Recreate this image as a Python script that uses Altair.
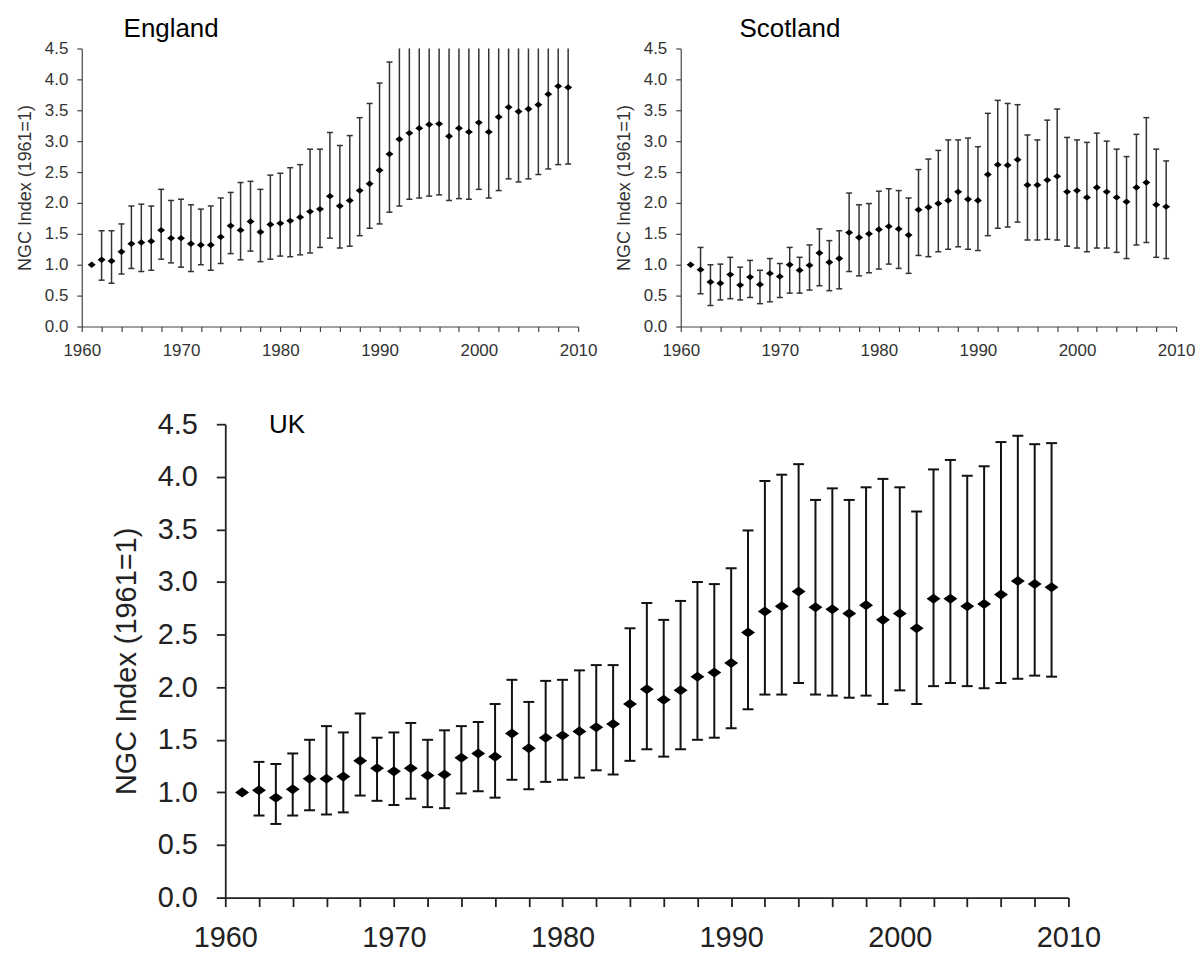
import altair as alt
import pandas as pd

years = list(range(1961, 2010))

england_mean = [1.00, 1.08, 1.06, 1.21, 1.34, 1.36, 1.38, 1.56, 1.43, 1.43,
                1.34, 1.32, 1.32, 1.45, 1.63, 1.56, 1.70, 1.53, 1.65, 1.67,
                1.71, 1.77, 1.86, 1.90, 2.11, 1.95, 2.04, 2.20, 2.31, 2.53,
                2.79, 3.03, 3.13, 3.21, 3.27, 3.28, 3.08, 3.21, 3.15, 3.30,
                3.15, 3.39, 3.55, 3.48, 3.52, 3.59, 3.76, 3.89, 3.87]
england_upper = [None, 1.55, 1.55, 1.66, 1.95, 1.98, 1.95, 2.22, 2.04, 2.06,
                 1.97, 1.90, 1.95, 2.08, 2.17, 2.33, 2.35, 2.22, 2.45, 2.48,
                 2.57, 2.62, 2.87, 2.87, 3.14, 2.93, 3.09, 3.38, 3.61, 3.94,
                 4.28, 4.70, 4.80, 4.90, 5.00, 5.00, 4.70, 5.00, 4.80, 4.90,
                 4.80, 5.20, 5.30, 5.20, 5.20, 5.20, 5.50, 5.80, 5.70]
england_lower = [None, 0.75, 0.70, 0.85, 0.94, 0.89, 0.91, 1.09, 1.03, 0.96,
                 0.89, 1.00, 0.91, 1.02, 1.18, 1.08, 1.22, 1.05, 1.09, 1.14,
                 1.13, 1.16, 1.19, 1.28, 1.43, 1.27, 1.30, 1.47, 1.59, 1.66,
                 1.85, 1.95, 2.06, 2.08, 2.11, 2.13, 2.04, 2.07, 2.06, 2.22,
                 2.08, 2.20, 2.39, 2.34, 2.39, 2.46, 2.55, 2.62, 2.63]

scotland_mean = [1.00, 0.92, 0.72, 0.70, 0.84, 0.67, 0.80, 0.68, 0.86, 0.81,
                 1.00, 0.91, 0.99, 1.19, 1.04, 1.10, 1.52, 1.44, 1.50, 1.57,
                 1.62, 1.58, 1.48, 1.89, 1.93, 1.99, 2.04, 2.18, 2.06, 2.04,
                 2.46, 2.62, 2.61, 2.70, 2.29, 2.29, 2.37, 2.43, 2.18, 2.20,
                 2.09, 2.25, 2.18, 2.09, 2.02, 2.25, 2.33, 1.97, 1.94]
scotland_upper = [None, 1.28, 1.00, 1.01, 1.12, 0.96, 1.07, 0.91, 1.10, 1.02,
                  1.28, 1.12, 1.32, 1.58, 1.39, 1.55, 2.16, 1.97, 1.99, 2.19,
                  2.23, 2.20, 2.08, 2.54, 2.71, 2.85, 3.02, 3.02, 3.05, 2.91,
                  3.45, 3.66, 3.61, 3.59, 3.10, 3.02, 3.34, 3.52, 3.06, 3.02,
                  2.98, 3.13, 3.00, 2.87, 2.75, 3.11, 3.38, 2.87, 2.68]
scotland_lower = [None, 0.53, 0.34, 0.43, 0.45, 0.43, 0.47, 0.37, 0.40, 0.47,
                  0.54, 0.54, 0.59, 0.66, 0.58, 0.61, 0.89, 0.82, 0.87, 0.93,
                  1.01, 0.94, 0.86, 1.15, 1.13, 1.21, 1.25, 1.29, 1.25, 1.23,
                  1.47, 1.59, 1.61, 1.69, 1.40, 1.40, 1.41, 1.40, 1.30, 1.27,
                  1.21, 1.27, 1.27, 1.20, 1.10, 1.32, 1.36, 1.12, 1.10]

uk_mean = [1.00, 1.02, 0.95, 1.03, 1.13, 1.13, 1.15, 1.30, 1.23, 1.20,
           1.23, 1.16, 1.17, 1.33, 1.37, 1.34, 1.56, 1.42, 1.52, 1.54,
           1.58, 1.62, 1.65, 1.84, 1.98, 1.88, 1.97, 2.10, 2.14, 2.23,
           2.52, 2.72, 2.77, 2.91, 2.76, 2.74, 2.70, 2.78, 2.64, 2.70,
           2.56, 2.84, 2.84, 2.77, 2.79, 2.88, 3.01, 2.98, 2.95]
uk_upper = [None, 1.29, 1.27, 1.37, 1.50, 1.63, 1.57, 1.75, 1.52, 1.57,
            1.66, 1.50, 1.59, 1.63, 1.67, 1.84, 2.07, 1.86, 2.06, 2.07,
            2.16, 2.21, 2.21, 2.56, 2.80, 2.64, 2.82, 3.00, 2.98, 3.13,
            3.49, 3.96, 4.02, 4.12, 3.78, 3.89, 3.78, 3.90, 3.98, 3.90,
            3.67, 4.07, 4.16, 4.01, 4.10, 4.33, 4.39, 4.31, 4.32]
uk_lower = [None, 0.78, 0.70, 0.78, 0.83, 0.79, 0.81, 0.97, 0.92, 0.88,
            0.94, 0.86, 0.85, 0.99, 1.01, 0.95, 1.12, 1.03, 1.10, 1.12,
            1.14, 1.21, 1.17, 1.30, 1.41, 1.34, 1.41, 1.50, 1.52, 1.61,
            1.79, 1.93, 1.93, 2.04, 1.93, 1.92, 1.90, 1.92, 1.84, 1.97,
            1.84, 2.01, 2.04, 2.01, 1.99, 2.04, 2.08, 2.11, 2.10]

x_tick_values = list(range(1960, 2011, 2))
y_tick_values = [0.0, 0.5, 1.0, 1.5, 2.0, 2.5, 3.0, 3.5, 4.0, 4.5]
y_title = "NGC Index (1961=1)"
FONT = "Liberation Sans"


def panel(name, mean, lower, upper, w, h, st, name_x, name_y):
    df = pd.DataFrame({"year": years, "mean": mean, "lower": lower, "upper": upper})
    xscale = alt.Scale(domain=[1960, 2010], nice=False, zero=False)
    yscale = alt.Scale(domain=[0, 4.5], nice=False, zero=True, clamp=True)
    xaxis = alt.Axis(values=x_tick_values, format="d",
                     labelExpr="datum.value % 10 == 0 ? datum.label : ''",
                     title=None, grid=False, tickSize=st["tick"], tickWidth=st["axw"],
                     domainWidth=st["axw"], domainColor=st["axc"], tickColor=st["axc"],
                     labelFont=FONT, labelFontSize=st["lfs"], labelColor=st["lc"],
                     labelPadding=st["xlp"], labelOverlap=False, labelFlush=False)
    yaxis = alt.Axis(values=y_tick_values, format=".1f", title=y_title, grid=False,
                     tickSize=st["tick"], tickWidth=st["axw"], domainWidth=st["axw"],
                     domainColor=st["axc"], tickColor=st["axc"],
                     labelFont=FONT, labelFontSize=st["lfs"], labelColor=st["lc"],
                     labelPadding=st["ylp"], titleFont=FONT, titleFontSize=st["tfs"],
                     titleFontWeight="normal", titleColor=st["lc"],
                     titlePadding=st["tp"])

    def X():
        return alt.X("year:Q", scale=xscale, axis=xaxis)

    def Y(f):
        return alt.Y(f + ":Q", scale=yscale, axis=yaxis, title=y_title)

    base = alt.Chart(df)
    bars = base.mark_rule(color=st["bc"], strokeWidth=st["bw"]).encode(
        x=X(), y=Y("lower"), y2="upper:Q")
    lo_caps = base.mark_tick(orient="horizontal", size=st["cap"], thickness=st["bw"],
                             color=st["bc"], opacity=1).encode(x=X(), y=Y("lower"))
    up_caps = base.transform_filter("datum.upper != null && datum.upper <= 4.5").mark_tick(
        orient="horizontal", size=st["cap"], thickness=st["bw"], color=st["bc"],
        opacity=1).encode(x=X(), y=Y("upper"))
    pts = base.mark_point(shape=st["shape"], filled=True, size=st["ms"], color="black",
                          opacity=1).encode(x=X(), y=Y("mean"))
    label = alt.Chart(pd.DataFrame({"t": [name]})).mark_text(
        font=FONT, fontSize=st["nfs"], color="black", align="left",
        baseline="alphabetic").encode(text="t:N", x=alt.value(name_x), y=alt.value(name_y))
    return alt.layer(bars, lo_caps, up_caps, pts, label).properties(width=w, height=h)


small = dict(tick=5, axw=1.2, axc="#444444", lfs=17, lc="#333333", xlp=11, ylp=9,
             tfs=18, tp=10, bc="#333333", bw=1.5, cap=6,
             shape="M-1,0L0,-0.8L1,0L0,0.8Z", ms=64, nfs=26)
big = dict(tick=9, axw=1.8, axc="#222222", lfs=29, lc="#222222", xlp=17, ylp=19,
           tfs=29, tp=16, bc="#111111", bw=2, cap=11,
           shape="M-1,0L0,-0.72L1,0L0,0.72Z", ms=196, nfs=26)

eng = panel("England", england_mean, england_lower, england_upper, 498, 279, small, 42, -11)
sco = panel("Scotland", scotland_mean, scotland_lower, scotland_upper, 497, 279, small, 59, -11)
uk = panel("UK", uk_mean, uk_lower, uk_upper, 846, 475, big, 44, 9)

# empty indent column so the UK panel sits further right, as in the original
indent = alt.Chart(pd.DataFrame({"t": [""]})).mark_text().encode(
    text="t:N").properties(width=30, height=10)

top = alt.hconcat(eng, sco, spacing=18)
bottom = alt.hconcat(indent, uk, spacing=0)
chart = alt.vconcat(top, bottom, spacing=52).properties(
    padding={"left": 8, "top": 7, "right": 0, "bottom": 0},
    background="white",
).configure_view(stroke=None)

chart.save("out.html", embed_options={"renderer": "svg", "actions": False})
